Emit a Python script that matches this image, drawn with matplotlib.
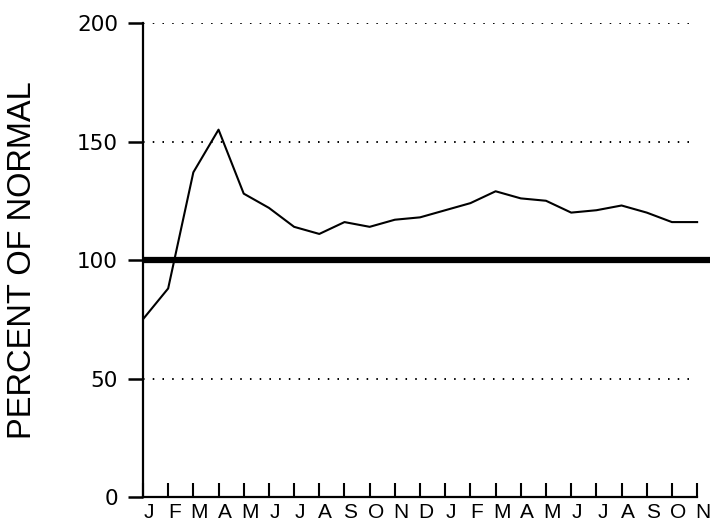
import matplotlib.pyplot as plt
import matplotlib.transforms as mtransforms

months = ['J', 'F', 'M', 'A', 'M', 'J', 'J', 'A', 'S', 'O', 'N', 'D',
          'J', 'F', 'M', 'A', 'M', 'J', 'J', 'A', 'S', 'O', 'N']
percent = [75, 88, 137, 155, 128, 122, 114, 111, 116, 114, 117, 118,
           121, 124, 129, 126, 125, 120, 121, 123, 120, 116, 116]
normal = 100
grid_levels = [50, 150, 200]
yticks = [0, 50, 100, 150, 200]

plt.rcParams['font.family'] = ['Liberation Sans', 'DejaVu Sans']

fig = plt.figure(figsize=(7.12, 5.24), dpi=100)
ax = fig.add_axes([0.2008, 0.0515, 0.796, 0.9046])

x = list(range(len(months)))
last = len(months) - 1

# dotted reference levels
for g in grid_levels:
    ax.plot([0, last - 0.2], [g, g], color='black', lw=1.4,
            linestyle=(0, (0.8, 4.2)), zorder=1)

# normal line
ax.plot([0, last + 0.5], [normal, normal], color='black', lw=4.5, zorder=2,
        solid_capstyle='butt')

ax.plot(x, percent, color='black', lw=1.5, zorder=3)

ax.set_xlim(0, last + 0.5)
ax.set_ylim(0, 200)

for s in ['top', 'right']:
    ax.spines[s].set_visible(False)
ax.spines['left'].set_linewidth(1.6)
ax.spines['bottom'].set_linewidth(1.6)
ax.spines['left'].set_bounds(0, 200)
ax.spines['bottom'].set_bounds(0, last)

ax.set_yticks(yticks)
ax.set_yticklabels([str(t) for t in yticks], fontsize=15.5, family='DejaVu Sans')
ax.tick_params(axis='y', direction='out', length=11, width=1.8, pad=7)

ax.set_xticks(x)
ax.set_xticklabels(months, fontsize=15)
ax.tick_params(axis='x', direction='in', length=10, width=1.5, pad=4)
shift = mtransforms.ScaledTranslation(6 / 100, 0, fig.dpi_scale_trans)
for lab in ax.get_xticklabels():
    lab.set_transform(lab.get_transform() + shift)

ax.set_ylabel('PERCENT OF NORMAL', fontsize=23.5)
ax.yaxis.set_label_coords(-0.185, 0.5)

fig.savefig('out.png', dpi=100)
